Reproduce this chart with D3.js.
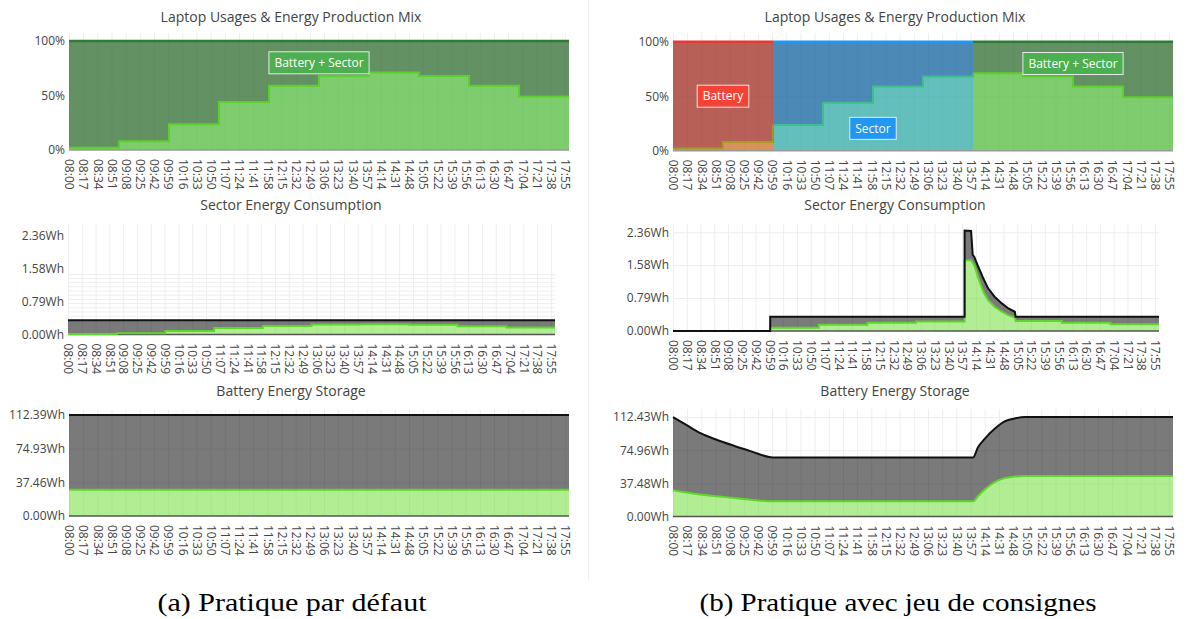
<!DOCTYPE html>
<html>
<head>
<meta charset="utf-8">
<script src="https://cdn.jsdelivr.net/npm/d3@7"></script>
<style>
  body { margin: 0; background: #fff; }
  svg { display: block; font-family: "Open Sans", sans-serif; }
</style>
</head>
<body>
<svg id="chart"></svg>
<script>
const svgWidth = 1188;
const svgHeight = 619;

// tick labels on every time axis
const timeLabels = ["08:00","08:17","08:34","08:51","09:08","09:25","09:42","09:59","10:16","10:33",
  "10:50","11:07","11:24","11:41","11:58","12:15","12:32","12:49","13:06","13:23","13:40","13:57",
  "14:14","14:31","14:48","15:05","15:22","15:39","15:56","16:13","16:30","16:47","17:04","17:21",
  "17:38","17:55"];

// hourly production mix (share of the lower band, %)
const hours = ["08:00","09:00","10:00","11:00","12:00","13:00","14:00","15:00","16:00","17:00","18:00"];
const mixShare = [2, 8, 23.6, 44, 59, 68, 71, 68, 59, 49];
const sourceA = ["Battery + Sector","Battery + Sector","Battery + Sector","Battery + Sector","Battery + Sector",
  "Battery + Sector","Battery + Sector","Battery + Sector","Battery + Sector","Battery + Sector"];
const sourceB = ["Battery","Battery","Sector","Sector","Sector","Sector",
  "Battery + Sector","Battery + Sector","Battery + Sector","Battery + Sector"];

// label boxes: [text, time, %]
const labelsA = [["Battery + Sector", "13:00", 80]];
const labelsB = [["Battery", "09:00", 50], ["Sector", "12:00", 20.5], ["Battery + Sector", "16:00", 80]];

// sector energy consumption (Wh)
const sectorTotalA = [0.34, 0.34, 0.34, 0.34, 0.34, 0.34, 0.34, 0.34, 0.34, 0.34];
const sectorGreenA = [0.01, 0.03, 0.085, 0.155, 0.205, 0.24, 0.245, 0.235, 0.2, 0.17];
// stray grid of the left consumption chart
const sectorExtraGridA = [0.45, 0.55, 0.65, 0.75, 0.85, 0.95, 1.05, 1.15, 1.25, 1.35, 1.45];

const sectorTimesB = ["08:00","10:00","10:00","11:00","11:00","12:00","12:00","13:00","13:00","14:00",
  "14:00","14:08","14:10","14:12","14:17","14:23","14:29","14:37","14:46","14:54","15:02","15:03",
  "16:00","16:00","17:00","17:00","18:00"];
const sectorTotalB = [0, 0, 0.34, 0.34, 0.34, 0.34, 0.34, 0.34, 0.34, 0.34,
  2.40, 2.39, 1.82, 1.77, 1.53, 1.26, 1.02, 0.82, 0.66, 0.54, 0.46, 0.34,
  0.34, 0.34, 0.34, 0.34, 0.34];
const sectorGreenB = [0, 0, 0.08, 0.08, 0.15, 0.15, 0.20, 0.20, 0.23, 0.23,
  1.69, 1.69, 1.63, 1.57, 1.26, 0.94, 0.74, 0.58, 0.46, 0.38, 0.32, 0.24,
  0.24, 0.20, 0.20, 0.16, 0.16];

// battery energy storage (Wh)
const batteryTimesA = ["08:00","18:00"];
const batteryTotalA = [112.39, 112.39];
const batteryGreenA = [29.2, 29.2];

const batteryTimesB = ["08:00","08:17","08:33","08:53","09:13","09:33","10:00","14:00","14:06",
  "14:14","14:26","14:38","14:50","15:02","15:05","18:00"];
const batteryTotalB = [112.4, 102.9, 94.2, 86.5, 80.0, 73.9, 66.7, 66.7, 78.2,
  87.7, 99.1, 107.4, 110.8, 112.4, 112.4, 112.4];
const batteryGreenB = [29.7, 27.0, 24.8, 22.8, 21.0, 19.0, 17.1, 17.1, 23.0,
  30.5, 38.9, 43.4, 45.1, 45.7, 45.7, 45.7];

// y ticks
const pctTicks = [0, 50, 100];
const pctText = ["0%", "50%", "100%"];
const sectorTicks = [0, 0.788, 1.576, 2.36];
const sectorText = ["0.00Wh", "0.79Wh", "1.58Wh", "2.36Wh"];
const batteryTicksA = [0, 37.46, 74.93, 112.39];
const batteryTextA = ["0.00Wh", "37.46Wh", "74.93Wh", "112.39Wh"];
const batteryTicksB = [0, 37.48, 74.96, 112.43];
const batteryTextB = ["0.00Wh", "37.48Wh", "74.96Wh", "112.43Wh"];

const sourceStyle = {
  "Battery": { upper: "#9e2b20", lower: "#c87023", top: "#e53935", edge: "#a89a22", label: "#f44336" },
  "Sector": { upper: "#10629f", lower: "#2eaaa4", top: "#2196f3", edge: "#3cbf8a", label: "#2196f3" },
  "Battery + Sector": { upper: "#306c30", lower: "#52bb3e", top: "#2e7d32", edge: "#5bd02a", label: "#4caf50" },
};

const svg = d3.select("#chart").attr("width", svgWidth).attr("height", svgHeight);

const toMin = (s) => {
  const [h, m] = s.split(":").map(Number);
  return (h - 8) * 60 + m;
};

// separator between the two sub-figures
svg.append("line")
  .attr("x1", 588.5).attr("x2", 588.5).attr("y1", 0).attr("y2", 580)
  .attr("stroke", "#eee");

const drawFrame = (box, yTicks, yText, title, extraGrid) => {
  const x = d3.scaleLinear().domain([0, 600]).range([box.left, box.right]);
  const y = d3.scaleLinear().domain([0, yTicks[yTicks.length - 1]]).range([box.base, box.tickTop]);
  const g = svg.append("g");
  const tickMins = timeLabels.map(toMin);

  // grid
  g.append("g")
    .attr("transform", `translate(0,${box.base})`)
    .call(d3.axisBottom(x).tickValues(tickMins).tickSize(-(box.base - box.top)).tickFormat(""))
    .call((s) => s.select(".domain").remove())
    .selectAll("line").attr("stroke", "#eee");
  g.append("g")
    .attr("transform", `translate(${box.left},0)`)
    .call(d3.axisLeft(y).tickValues(extraGrid || yTicks.slice(1)).tickSize(-(box.right - box.left)).tickFormat(""))
    .call((s) => s.select(".domain").remove())
    .selectAll("line").attr("stroke", "#eee");

  // tick labels
  g.append("g")
    .attr("transform", `translate(0,${box.base})`)
    .call(d3.axisBottom(x).tickValues(tickMins).tickSize(0).tickFormat((d, i) => timeLabels[i]))
    .call((s) => s.select(".domain").remove())
    .attr("font-size", 12).attr("font-family", "Open Sans").attr("color", "#444")
    .selectAll("text")
    .attr("transform", "rotate(90)")
    .attr("x", 9).attr("y", 0).attr("dy", "0.35em")
    .style("text-anchor", "start");
  g.append("g")
    .attr("transform", `translate(${box.left},0)`)
    .call(d3.axisLeft(y).tickValues(yTicks).tickSize(0).tickPadding(4).tickFormat((d, i) => yText[i]))
    .call((s) => s.select(".domain").remove())
    .attr("font-size", 12).attr("font-family", "Open Sans").attr("color", "#444");

  g.append("text")
    .attr("x", box.titleX).attr("y", box.titleY)
    .attr("text-anchor", "middle").attr("dominant-baseline", "middle")
    .attr("font-size", 14).attr("fill", "#444")
    .text(title);

  return { g, x, y };
};

const drawMix = (box, source, labels) => {
  const { g, x, y } = drawFrame(box, pctTicks, pctText, "Laptop Usages & Energy Production Mix");
  const layer = g.append("g");

  // split the day into runs of the same source
  const runs = [];
  source.forEach((s, i) => {
    if (i > 0 && source[i - 1] === s) runs[runs.length - 1].end = i;
    else runs.push({ s, start: i, end: i });
  });

  runs.forEach((r) => {
    const st = sourceStyle[r.s];
    const pts = d3.range(r.start, r.end + 2).map((i) => ({
      t: toMin(hours[i]),
      v: mixShare[Math.min(i, r.end)],
    }));
    const linePts = r.end + 1 < mixShare.length
      ? pts.slice(0, -1).concat([{ t: toMin(hours[r.end + 1]), v: mixShare[r.end + 1] }])
      : pts;

    layer.append("path").datum(pts)
      .attr("fill", st.upper).attr("fill-opacity", 0.75)
      .attr("d", d3.area().curve(d3.curveStepAfter).x((d) => x(d.t)).y0((d) => y(d.v)).y1(y(100)));
    layer.append("path").datum(pts)
      .attr("fill", st.lower).attr("fill-opacity", 0.75)
      .attr("d", d3.area().curve(d3.curveStepAfter).x((d) => x(d.t)).y0(y(0)).y1((d) => y(d.v)));
    layer.append("path").datum(linePts)
      .attr("fill", "none").attr("stroke", st.edge).attr("stroke-width", 2)
      .attr("d", d3.line().curve(d3.curveStepAfter).x((d) => x(d.t)).y((d) => y(d.v)));
    layer.append("path").datum(pts)
      .attr("fill", "none").attr("stroke", st.top).attr("stroke-width", 2.5)
      .attr("d", d3.line().x((d) => x(d.t)).y(y(100)));
  });

  layer.append("line")
    .attr("x1", box.left).attr("x2", box.right).attr("y1", y(0)).attr("y2", y(0))
    .attr("stroke", "#999").attr("stroke-width", 1.5);

  labels.forEach(([text, t, v]) => {
    const st = sourceStyle[text];
    const lg = g.append("g").attr("transform", `translate(${x(toMin(t))},${y(v)})`);
    const rect = lg.append("rect").attr("fill", st.label).attr("stroke", "#e8e8e8").attr("stroke-width", 1);
    const txt = lg.append("text")
      .attr("text-anchor", "middle").attr("dy", "0.35em")
      .attr("font-size", 12).attr("fill", "#fff")
      .text(text);
    const w = txt.node().getComputedTextLength() + 11;
    rect.attr("x", -w / 2).attr("y", -11).attr("width", w).attr("height", 22);
  });
};

const drawStock = (box, yTicks, yText, title, times, total, green, curve, extraGrid) => {
  const { g, x, y } = drawFrame(box, yTicks, yText, title, extraGrid);
  const pts = times.map((t, i) => ({ t: toMin(t), total: total[i], green: green[i] }));

  g.append("path").datum(pts)
    .attr("fill", "rgb(100,220,40)").attr("fill-opacity", 0.5)
    .attr("d", d3.area().curve(curve).x((d) => x(d.t)).y0(y(0)).y1((d) => y(d.green)));
  g.append("path").datum(pts)
    .attr("fill", "#000").attr("fill-opacity", 0.52)
    .attr("d", d3.area().curve(curve).x((d) => x(d.t)).y0((d) => y(d.green)).y1((d) => y(d.total)));
  g.append("line")
    .attr("x1", box.left).attr("x2", box.right).attr("y1", y(0)).attr("y2", y(0))
    .attr("stroke", "#555").attr("stroke-width", 1.5);
  g.append("path").datum(pts)
    .attr("fill", "none").attr("stroke", "#5fd62a").attr("stroke-width", 2)
    .attr("d", d3.line().curve(curve).x((d) => x(d.t)).y((d) => y(d.green)));
  g.append("path").datum(pts)
    .attr("fill", "none").attr("stroke", "#111").attr("stroke-width", 2)
    .attr("d", d3.line().curve(curve).x((d) => x(d.t)).y((d) => y(d.total)));
};

const mixBoxA = { left: 69, right: 569, top: 33, base: 150, tickTop: 41, titleX: 291, titleY: 18 };
const mixBoxB = { left: 673, right: 1173, top: 33, base: 150.7, tickTop: 41.7, titleX: 895, titleY: 18 };
const sectorBoxA = { left: 68, right: 555, top: 224, base: 334.5, tickTop: 235.7, titleX: 291, titleY: 206 };
const sectorBoxB = { left: 673, right: 1159, top: 224, base: 331, tickTop: 232.3, titleX: 895, titleY: 206 };
const batteryBoxA = { left: 69, right: 569, top: 409, base: 516, tickTop: 415, titleX: 291, titleY: 392 };
const batteryBoxB = { left: 673, right: 1173, top: 409, base: 516.5, tickTop: 417, titleX: 895, titleY: 392 };

drawMix(mixBoxA, sourceA, labelsA);
drawMix(mixBoxB, sourceB, labelsB);

drawStock(sectorBoxA, sectorTicks, sectorText, "Sector Energy Consumption",
  hours, sectorTotalA.concat(sectorTotalA.slice(-1)), sectorGreenA.concat(sectorGreenA.slice(-1)),
  d3.curveStepAfter, sectorExtraGridA);
drawStock(sectorBoxB, sectorTicks, sectorText, "Sector Energy Consumption",
  sectorTimesB, sectorTotalB, sectorGreenB, d3.curveLinear);
drawStock(batteryBoxA, batteryTicksA, batteryTextA, "Battery Energy Storage",
  batteryTimesA, batteryTotalA, batteryGreenA, d3.curveLinear);
drawStock(batteryBoxB, batteryTicksB, batteryTextB, "Battery Energy Storage",
  batteryTimesB, batteryTotalB, batteryGreenB, d3.curveMonotoneX);

// sub-figure captions
const captions = [["(a) Pratique par défaut", 292, 269], ["(b) Pratique avec jeu de consignes", 898, 397]];
svg.selectAll(".caption").data(captions).enter().append("text")
  .attr("class", "caption")
  .attr("x", (d) => d[1]).attr("y", 611)
  .attr("text-anchor", "middle")
  .attr("font-family", "Liberation Serif, serif").attr("font-size", 25)
  .attr("textLength", (d) => d[2]).attr("lengthAdjust", "spacingAndGlyphs")
  .attr("fill", "#000")
  .text((d) => d[0]);
</script>
</body>
</html>
